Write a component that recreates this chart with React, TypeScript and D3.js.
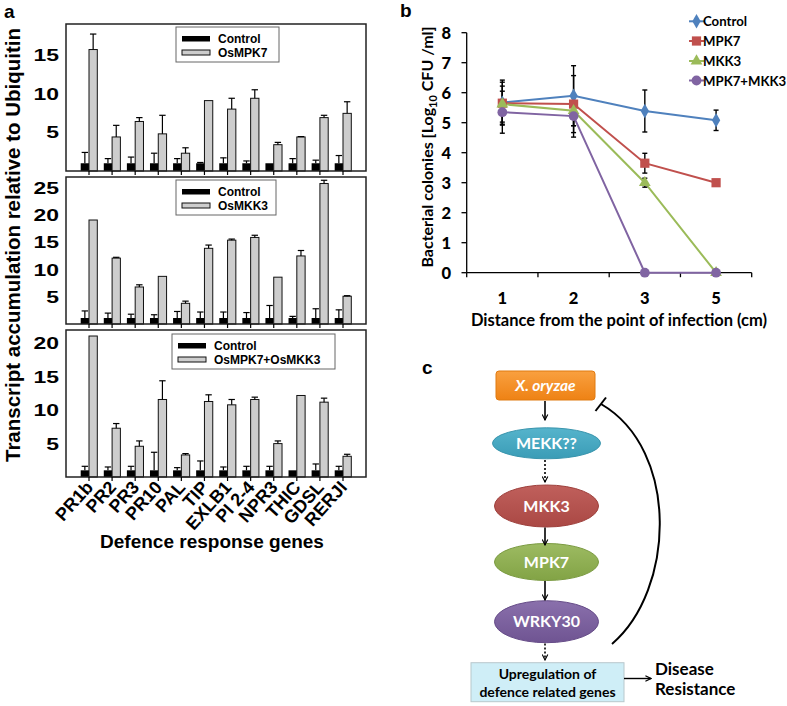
import { useEffect, useRef } from "react";
import * as d3 from "d3";

// panel a
const genes = ["PR1b", "PR2", "PR3", "PR10", "PAL", "TIP", "EXLB1", "PI 2-4", "NPR3", "THIC", "GDSL", "RERJI"];

const ctrlMpk7 = [1, 1, 1, 1, 1, 1, 1, 1, 1, 1, 1, 1];
const ctrlMpk7Err = [1.4, 0.6, 0.8, 1.3, 0.6, 0.1, 0.7, 0.3, 0, 0.6, 0.4, 1.0];
const osMpk7 = [15.7, 4.4, 6.4, 4.8, 2.3, 9.1, 8.0, 9.4, 3.4, 4.4, 6.9, 7.45];
const osMpk7Err = [2.0, 1.5, 0.5, 2.4, 0.7, 0, 1.4, 1.1, 0.3, 0.05, 0.3, 1.5];

const ctrlMkk3 = [1.1, 1.1, 1.1, 1.1, 1.1, 1.1, 1.1, 1.1, 1.1, 1.1, 1.1, 1.1];
const ctrlMkk3Err = [1.3, 0.9, 0.7, 0.6, 1.2, 1.1, 1.1, 1.0, 2.3, 0.3, 1.7, 1.5];
const osMkk3 = [19.1, 12.1, 6.8, 8.75, 3.8, 13.9, 15.4, 15.9, 8.6, 12.5, 25.8, 5.1];
const osMkk3Err = [0, 0.15, 0.4, 0, 0.4, 0.6, 0.2, 0.4, 0, 1.0, 0.6, 0.1];

const ctrlBoth = [1, 1, 1, 1, 1, 1, 1, 1, 1, 1, 1, 1];
const ctrlBothErr = [0.6, 0.5, 0.6, 2.7, 0.4, 1.4, 0.5, 0.6, 0.6, 0, 0.95, 0.6];
const osBoth = [21.1, 7.3, 4.6, 11.6, 3.3, 11.3, 10.8, 11.6, 5.0, 12.2, 11.2, 3.1];
const osBothErr = [0, 0.7, 0.8, 2.8, 0.2, 1.0, 0.8, 0.35, 0.4, 0, 0.6, 0.3];

const ticksMpk7 = [5, 10, 15];
const ticksMkk3 = [5, 10, 15, 20, 25];
const ticksBoth = [5, 10, 15, 20];

// panel b
const distances = ["1", "2", "3", "5"];
const bTicks = [0, 1, 2, 3, 4, 5, 6, 7, 8];
const bSeriesNames = ["Control", "MPK7", "MKK3", "MPK7+MKK3"];
const bControl = [5.67, 5.9, 5.39, 5.08];
const bControlErr = [0.75, 1.0, 0.7, 0.34];
const bMpk7 = [5.65, 5.62, 3.65, 3.0];
const bMpk7Err = [0.7, 0.95, 0.33, 0];
const bMkk3 = [5.62, 5.4, 3.0, 0];
const bMkk3Err = [0.6, 0.5, 0.15, 0];
const bBoth = [5.35, 5.22, 0, 0];
const bBothErr = [0.7, 0.7, 0, 0];

const ARIAL = "'Liberation Sans', Arial, sans-serif";
const CAL = "Lato, 'Open Sans', sans-serif";

const App = () => {
  const ref = useRef<SVGSVGElement>(null);

  useEffect(() => {
    const svg = d3.select(ref.current);
    svg.selectAll("*").remove();

    const defs = svg.append("defs");
    defs
      .append("marker")
      .attr("id", "arr")
      .attr("viewBox", "0 0 10 10")
      .attr("refX", 9)
      .attr("refY", 5)
      .attr("markerWidth", 7)
      .attr("markerHeight", 7)
      .attr("markerUnits", "userSpaceOnUse")
      .attr("orient", "auto")
      .append("path")
      .attr("d", "M1,1 L9,5 L1,9")
      .attr("fill", "none")
      .attr("stroke", "#000")
      .attr("stroke-width", 1.6);

    // ---------- panel a ----------
    const a = svg.append("g");
    a.append("text").attr("x", 4).attr("y", 18).attr("font-family", ARIAL)
      .attr("font-weight", "bold").attr("font-size", 19).text("a");

    const x = d3.scalePoint().domain(genes).range([89, 343]);
    const bw = 8.3;
    const subs = [
      { ctrl: ctrlMpk7, ctrlErr: ctrlMpk7Err, trt: osMpk7, trtErr: osMpk7Err, name: "OsMPK7",
        top: 24, bottom: 171, max: 19, ticks: ticksMpk7, lg: [176, 27, 103] },
      { ctrl: ctrlMkk3, ctrlErr: ctrlMkk3Err, trt: osMkk3, trtErr: osMkk3Err, name: "OsMKK3",
        top: 177, bottom: 324, max: 27, ticks: ticksMkk3, lg: [176, 180, 100] },
      { ctrl: ctrlBoth, ctrlErr: ctrlBothErr, trt: osBoth, trtErr: osBothErr, name: "OsMPK7+OsMKK3",
        top: 330, bottom: 477, max: 22, ticks: ticksBoth, lg: [172, 334, 163] },
    ];

    subs.forEach((s) => {
      const y = d3.scaleLinear().domain([0, s.max]).range([s.bottom, s.top]);
      const g = a.append("g");

      g.selectAll("rect.c").data(genes).join("rect")
        .attr("x", (d) => x(d)! - bw)
        .attr("y", (d, i) => y(s.ctrl[i]))
        .attr("width", bw)
        .attr("height", (d, i) => s.bottom - y(s.ctrl[i]))
        .attr("fill", "#000");

      g.selectAll("rect.t").data(genes).join("rect")
        .attr("x", (d) => x(d)!)
        .attr("y", (d, i) => y(s.trt[i]))
        .attr("width", bw)
        .attr("height", (d, i) => s.bottom - y(s.trt[i]))
        .attr("fill", "#cdcdcd")
        .attr("stroke", "#111")
        .attr("stroke-width", 1);

      const errs: [number, number, number][] = [];
      genes.forEach((d, i) => {
        if (s.ctrlErr[i] > 0.04) errs.push([x(d)! - bw / 2, s.ctrl[i], s.ctrlErr[i]]);
        if (s.trtErr[i] > 0.04) errs.push([x(d)! + bw / 2, s.trt[i], s.trtErr[i]]);
      });
      errs.forEach(([cx, v, e]) => {
        g.append("line").attr("x1", cx).attr("x2", cx).attr("y1", y(v)).attr("y2", y(v + e))
          .attr("stroke", "#000").attr("stroke-width", 1.2);
        g.append("line").attr("x1", cx - 3.2).attr("x2", cx + 3.2).attr("y1", y(v + e)).attr("y2", y(v + e))
          .attr("stroke", "#000").attr("stroke-width", 1.2);
      });

      g.append("rect").attr("x", 66).attr("y", s.top).attr("width", 300)
        .attr("height", s.bottom - s.top).attr("fill", "none")
        .attr("stroke", "#222").attr("stroke-width", 1.5);

      g.selectAll("line.tk").data(genes).join("line")
        .attr("x1", (d) => x(d)!).attr("x2", (d) => x(d)!)
        .attr("y1", s.bottom).attr("y2", s.bottom + 4)
        .attr("stroke", "#000").attr("stroke-width", 1.2);

      s.ticks.forEach((t) => {
        g.append("g").attr("transform", `translate(59,${y(t)}) scale(1.35,1)`)
          .append("text").attr("y", 6).attr("text-anchor", "end")
          .attr("font-family", ARIAL).attr("font-weight", "bold").attr("font-size", 17)
          .text(t);
      });

      const [lx, ly, lw] = s.lg;
      g.append("rect").attr("x", lx).attr("y", ly).attr("width", lw).attr("height", 35)
        .attr("fill", "#fff").attr("stroke", "#666").attr("stroke-width", 1);
      g.append("rect").attr("x", lx + 6).attr("y", ly + 9).attr("width", 28).attr("height", 5.5).attr("fill", "#000");
      g.append("rect").attr("x", lx + 6).attr("y", ly + 23).attr("width", 28).attr("height", 5)
        .attr("fill", "#cdcdcd").attr("stroke", "#111").attr("stroke-width", 1);
      g.append("text").attr("x", lx + 42).attr("y", ly + 16).attr("font-family", ARIAL)
        .attr("font-weight", "bold").attr("font-size", 12).text("Control");
      g.append("text").attr("x", lx + 42).attr("y", ly + 30).attr("font-family", ARIAL)
        .attr("font-weight", "bold").attr("font-size", 12).text(s.name);
    });

    a.selectAll("text.gene").data(genes).join("text")
      .attr("transform", (d) => `translate(${x(d)! + 5},488) rotate(-48)`)
      .attr("text-anchor", "end")
      .attr("font-family", ARIAL).attr("font-weight", "bold").attr("font-size", 18)
      .text((d) => d);

    a.append("text").attr("x", 212).attr("y", 548).attr("text-anchor", "middle")
      .attr("font-family", ARIAL).attr("font-weight", "bold").attr("font-size", 19)
      .text("Defence response genes");

    a.append("text").attr("transform", "translate(20,245) rotate(-90)").attr("text-anchor", "middle")
      .attr("font-family", ARIAL).attr("font-weight", "bold").attr("font-size", 20.5)
      .text("Transcript accumulation relative to Ubiquitin");

    // ---------- panel b ----------
    const b = svg.append("g");
    b.append("text").attr("x", 400).attr("y", 17).attr("font-family", ARIAL)
      .attr("font-weight", "bold").attr("font-size", 19).text("b");

    const xB = d3.scaleBand().domain(distances).range([466.7, 751.7]);
    const yB = d3.scaleLinear().domain([0, 8]).range([272.7, 32.7]);
    const cx = (d: string) => xB(d)! + xB.bandwidth() / 2;

    b.append("line").attr("x1", 466.7).attr("x2", 466.7).attr("y1", yB(8)).attr("y2", yB(0))
      .attr("stroke", "#000").attr("stroke-width", 1.3);
    b.append("line").attr("x1", 466.7).attr("x2", 751.7).attr("y1", yB(0)).attr("y2", yB(0))
      .attr("stroke", "#000").attr("stroke-width", 1.3);
    bTicks.forEach((t) => {
      b.append("line").attr("x1", 461.5).attr("x2", 466.7).attr("y1", yB(t)).attr("y2", yB(t))
        .attr("stroke", "#000").attr("stroke-width", 1.3);
      b.append("text").attr("x", 451).attr("y", yB(t) + 6).attr("text-anchor", "end")
        .attr("font-family", CAL).attr("font-weight", "900").attr("font-size", 16.5).text(t);
    });
    [...distances.map((d) => xB(d)!), 751.7].forEach((v) => {
      b.append("line").attr("x1", v).attr("x2", v).attr("y1", yB(0)).attr("y2", yB(0) + 4.5)
        .attr("stroke", "#000").attr("stroke-width", 1.3);
    });
    distances.forEach((d) => {
      b.append("text").attr("x", cx(d)).attr("y", 304).attr("text-anchor", "middle")
        .attr("font-family", CAL).attr("font-weight", "900").attr("font-size", 16.5).text(d);
    });
    b.append("text").attr("x", 619).attr("y", 326).attr("text-anchor", "middle")
      .attr("font-family", CAL).attr("font-weight", "bold").attr("font-size", 16.5)
      .text("Distance from the point of infection (cm)");

    const yt = b.append("text").attr("transform", "translate(433,147) rotate(-90)")
      .attr("text-anchor", "middle").attr("font-family", CAL).attr("font-weight", "bold").attr("font-size", 16);
    yt.append("tspan").text("Bacterial colonies [Log");
    yt.append("tspan").attr("font-size", 11).attr("dy", 4).text("10");
    yt.append("tspan").attr("dy", -4).text(" CFU /ml]");

    const series = [
      { vals: bControl, err: bControlErr, color: "#4F81BD", sym: d3.symbolDiamond, size: 60 },
      { vals: bMpk7, err: bMpk7Err, color: "#C0504D", sym: d3.symbolSquare, size: 85 },
      { vals: bMkk3, err: bMkk3Err, color: "#9BBB59", sym: d3.symbolTriangle, size: 60 },
      { vals: bBoth, err: bBothErr, color: "#8064A2", sym: d3.symbolCircle, size: 75 },
    ];
    const line = d3.line<number>().x((d, i) => cx(distances[i])).y((d) => yB(d));

    series.forEach((s) => {
      b.append("path").datum(s.vals).attr("d", line).attr("fill", "none")
        .attr("stroke", s.color).attr("stroke-width", 2);
    });
    series.forEach((s) => {
      s.vals.forEach((v, i) => {
        const e = s.err[i];
        if (e <= 0) return;
        const px = cx(distances[i]);
        b.append("line").attr("x1", px).attr("x2", px).attr("y1", yB(v - e)).attr("y2", yB(v + e))
          .attr("stroke", "#000").attr("stroke-width", 1.4);
        [v - e, v + e].forEach((w) => {
          b.append("line").attr("x1", px - 2.5).attr("x2", px + 2.5).attr("y1", yB(w)).attr("y2", yB(w))
            .attr("stroke", "#000").attr("stroke-width", 1.4);
        });
      });
    });
    series.forEach((s) => {
      b.selectAll(null).data(s.vals).join("path")
        .attr("transform", (d, i) => `translate(${cx(distances[i])},${yB(d)})`)
        .attr("d", d3.symbol().type(s.sym).size(s.size)())
        .attr("fill", s.color);
    });

    const legY = [21.3, 41, 61, 80.5];
    series.forEach((s, i) => {
      b.append("line").attr("x1", 689).attr("x2", 704).attr("y1", legY[i]).attr("y2", legY[i])
        .attr("stroke", s.color).attr("stroke-width", 2);
      b.append("path").attr("transform", `translate(696.5,${legY[i]})`)
        .attr("d", d3.symbol().type(s.sym).size(s.size)()).attr("fill", s.color);
      b.append("text").attr("x", 703).attr("y", legY[i] + 5).attr("font-family", CAL)
        .attr("font-weight", "bold").attr("font-size", 13.2).text(bSeriesNames[i]);
    });

    // ---------- panel c ----------
    const c = svg.append("g");
    c.append("text").attr("x", 422).attr("y", 374).attr("font-family", ARIAL)
      .attr("font-weight", "bold").attr("font-size", 19).text("c");

    const grad = (id: string, top: string, bot: string) => {
      const lg = defs.append("linearGradient").attr("id", id).attr("x1", 0).attr("x2", 0).attr("y1", 0).attr("y2", 1);
      lg.append("stop").attr("offset", "0%").attr("stop-color", top);
      lg.append("stop").attr("offset", "100%").attr("stop-color", bot);
    };
    grad("gOr", "#F9A040", "#EE8214");
    grad("gTe", "#56B4CC", "#3A9CB6");
    grad("gRe", "#C0605C", "#AA4844");
    grad("gGr", "#9DBB62", "#82A345");
    grad("gPu", "#8A70AC", "#6F5492");

    c.append("rect").attr("x", 496).attr("y", 371).attr("width", 99).attr("height", 29).attr("rx", 3)
      .attr("fill", "url(#gOr)").attr("stroke", "#E07A10").attr("stroke-width", 1);
    c.append("text").attr("x", 545.5).attr("y", 391).attr("text-anchor", "middle")
      .attr("font-family", CAL).attr("font-weight", "bold").attr("font-style", "italic")
      .attr("font-size", 15.5).attr("fill", "#fff").text("X. oryzae");

    const nodes = [
      { cy: 443.3, rx: 54, ry: 15.5, fill: "url(#gTe)", stroke: "#3A95AD", label: "MEKK??" },
      { cy: 506, rx: 52, ry: 21, fill: "url(#gRe)", stroke: "#9E403C", label: "MKK3" },
      { cy: 562, rx: 52, ry: 18.5, fill: "url(#gGr)", stroke: "#7A9A40", label: "MPK7" },
      { cy: 621.7, rx: 52, ry: 21, fill: "url(#gPu)", stroke: "#664C88", label: "WRKY30" },
    ];
    nodes.forEach((n) => {
      c.append("ellipse").attr("cx", 546.5).attr("cy", n.cy).attr("rx", n.rx).attr("ry", n.ry)
        .attr("fill", n.fill).attr("stroke", n.stroke).attr("stroke-width", 1);
      c.append("text").attr("x", 546.5).attr("y", n.cy + 5.5).attr("text-anchor", "middle")
        .attr("font-family", CAL).attr("font-weight", "bold").attr("font-size", 16)
        .attr("fill", "#fff").text(n.label);
    });

    const arrows = [
      { y1: 401, y2: 420, dash: false },
      { y1: 460, y2: 482, dash: true },
      { y1: 527.5, y2: 545, dash: false },
      { y1: 581, y2: 600, dash: false },
      { y1: 643.5, y2: 660, dash: true },
    ];
    arrows.forEach((r) => {
      c.append("line").attr("x1", 545).attr("x2", 545).attr("y1", r.y1).attr("y2", r.y2)
        .attr("stroke", "#000").attr("stroke-width", 1.6)
        .attr("stroke-dasharray", r.dash ? "2,2" : null)
        .attr("marker-end", "url(#arr)");
    });

    c.append("rect").attr("x", 471).attr("y", 662.7).attr("width", 153).attr("height", 39)
      .attr("fill", "#CFEEF7").attr("stroke", "#B8C8CC").attr("stroke-width", 1);
    c.append("text").attr("x", 547.5).attr("y", 679).attr("text-anchor", "middle")
      .attr("font-family", CAL).attr("font-weight", "bold").attr("font-size", 14).text("Upregulation of");
    c.append("text").attr("x", 547.5).attr("y", 697).attr("text-anchor", "middle")
      .attr("font-family", CAL).attr("font-weight", "bold").attr("font-size", 14).text("defence related genes");

    c.append("line").attr("x1", 624).attr("x2", 651).attr("y1", 678.5).attr("y2", 678.5)
      .attr("stroke", "#000").attr("stroke-width", 1.4).attr("marker-end", "url(#arr)");
    c.append("text").attr("x", 655).attr("y", 675).attr("font-family", CAL)
      .attr("font-weight", "bold").attr("font-size", 17).text("Disease");
    c.append("text").attr("x", 655).attr("y", 695).attr("font-family", CAL)
      .attr("font-weight", "bold").attr("font-size", 17).text("Resistance");

    c.append("path").attr("d", "M612,644 C675,590 680,450 601,404").attr("fill", "none")
      .attr("stroke", "#000").attr("stroke-width", 2);
    c.append("line").attr("x1", 595.5).attr("y1", 411).attr("x2", 606).attr("y2", 397.5)
      .attr("stroke", "#000").attr("stroke-width", 2);
  }, []);

  return (
    <svg
      ref={ref}
      width={787}
      height={706}
      style={{ position: "absolute", left: 0, top: 0, background: "#fff" }}
    />
  );
};

export default App;
